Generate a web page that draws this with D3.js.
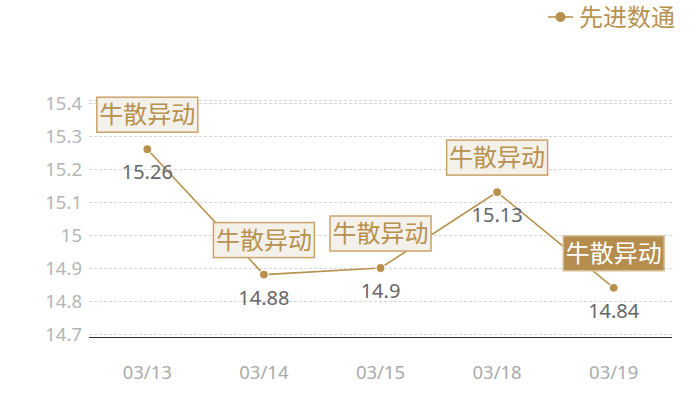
<!DOCTYPE html>
<html>
<head>
<meta charset="utf-8">
<script src="https://cdn.jsdelivr.net/npm/d3@7"></script>
<style>
  body { margin: 0; background: #fff; }
  text { font-family: "Noto Sans", "Noto Sans CJK SC", sans-serif; }
</style>
</head>
<body>
<svg id="chart" width="700" height="400"></svg>
<script>
var dates = ["03/13", "03/14", "03/15", "03/18", "03/19"];
var prices = [15.26, 14.88, 14.9, 15.13, 14.84];
var yTicks = [14.7, 14.8, 14.9, 15, 15.1, 15.2, 15.3, 15.4];
var markText = ["牛散异动", "牛散异动", "牛散异动", "牛散异动", "牛散异动"];
var markActive = [false, false, false, false, true];
var seriesName = "先进数通";

var gold = "#b8914f";

var svg = d3.select("#chart");

var x = d3.scaleBand()
    .domain(dates)
    .range([89, 672]);

var y = d3.scaleLinear()
    .domain([14.7, 15.4])
    .range([334, 103]);

// grid lines
svg.append("g")
  .selectAll("line")
  .data(yTicks)
  .enter().append("line")
    .attr("x1", 89)
    .attr("x2", 672)
    .attr("y1", function(d) { return y(d) + 0.5; })
    .attr("y2", function(d) { return y(d) + 0.5; })
    .attr("stroke", "#d6d6d6")
    .attr("stroke-dasharray", "3,2");

svg.append("line")
    .attr("x1", 89).attr("x2", 672)
    .attr("y1", 100.5).attr("y2", 100.5)
    .attr("stroke", "#d6d6d6")
    .attr("stroke-dasharray", "3,2");

// y labels
svg.append("g")
  .selectAll("text")
  .data(yTicks)
  .enter().append("text")
    .attr("x", 82)
    .attr("y", function(d) { return y(d); })
    .attr("dy", "0.36em")
    .attr("text-anchor", "end")
    .attr("font-size", "18.5px")
    .attr("fill", "#b5b5b5")
    .text(function(d) { return d; });

// x axis line
svg.append("line")
    .attr("x1", 89).attr("x2", 672)
    .attr("y1", 337.5).attr("y2", 337.5)
    .attr("stroke", "#333")
    .attr("stroke-width", 1.2);

// x labels
svg.append("g")
  .selectAll("text")
  .data(dates)
  .enter().append("text")
    .attr("x", function(d) { return x(d) + x.bandwidth() / 2; })
    .attr("y", 372)
    .attr("dy", "0.36em")
    .attr("text-anchor", "middle")
    .attr("font-size", "18.5px")
    .attr("fill", "#aaa")
    .text(function(d) { return d; });

var pts = dates.map(function(d, i) {
  return { date: d, value: prices[i], mark: markText[i], active: markActive[i],
           cx: x(d) + x.bandwidth() / 2, cy: y(prices[i]) };
});

var line = d3.line()
    .x(function(d) { return d.cx; })
    .y(function(d) { return d.cy; });

svg.append("path")
    .datum(pts)
    .attr("d", line)
    .attr("fill", "none")
    .attr("stroke", gold)
    .attr("stroke-width", 1.6);

svg.append("g")
  .selectAll("circle")
  .data(pts)
  .enter().append("circle")
    .attr("cx", function(d) { return d.cx; })
    .attr("cy", function(d) { return d.cy; })
    .attr("r", 4.5)
    .attr("fill", gold)
    .attr("stroke", "#fff")
    .attr("stroke-width", 1.2);

// value labels
svg.append("g")
  .selectAll("text")
  .data(pts)
  .enter().append("text")
    .attr("x", function(d) { return d.cx; })
    .attr("y", function(d) { return d.cy + 23; })
    .attr("dy", "0.36em")
    .attr("text-anchor", "middle")
    .attr("font-size", "20px")
    .attr("fill", "#666")
    .text(function(d) { return d.value; });

// mark boxes
var marks = svg.append("g")
  .selectAll("g")
  .data(pts)
  .enter().append("g")
    .attr("transform", function(d) {
      return "translate(" + d.cx + "," + (d.cy - 34.5) + ")"; });

marks.append("rect")
    .attr("x", -50.5)
    .attr("y", -17.5)
    .attr("width", 101)
    .attr("height", 35)
    .attr("fill", function(d) { return d.active ? "#b58d4e" : "#f4f0ea"; })
    .attr("stroke", function(d) { return d.active ? "#d9c19a" : "#c9a36a"; })
    .attr("stroke-width", 1.5);

marks.append("text")
    .attr("y", 0)
    .attr("dy", "0.36em")
    .attr("text-anchor", "middle")
    .attr("font-family", "'Noto Sans CJK SC', sans-serif")
    .attr("font-size", "24px")
    .attr("fill", function(d) { return d.active ? "#fff" : gold; })
    .text(function(d) { return d.mark; });

// legend
var legend = svg.append("g").attr("transform", "translate(548,17)");
legend.append("line")
    .attr("x1", 0).attr("x2", 25)
    .attr("stroke", gold)
    .attr("stroke-width", 1.6);
legend.append("circle")
    .attr("cx", 12.5)
    .attr("r", 5)
    .attr("fill", gold);
legend.append("text")
    .attr("x", 31)
    .attr("dy", "0.36em")
    .attr("font-family", "'Noto Sans CJK SC', sans-serif")
    .attr("font-size", "24px")
    .attr("fill", gold)
    .text(seriesName);
</script>
</body>
</html>
